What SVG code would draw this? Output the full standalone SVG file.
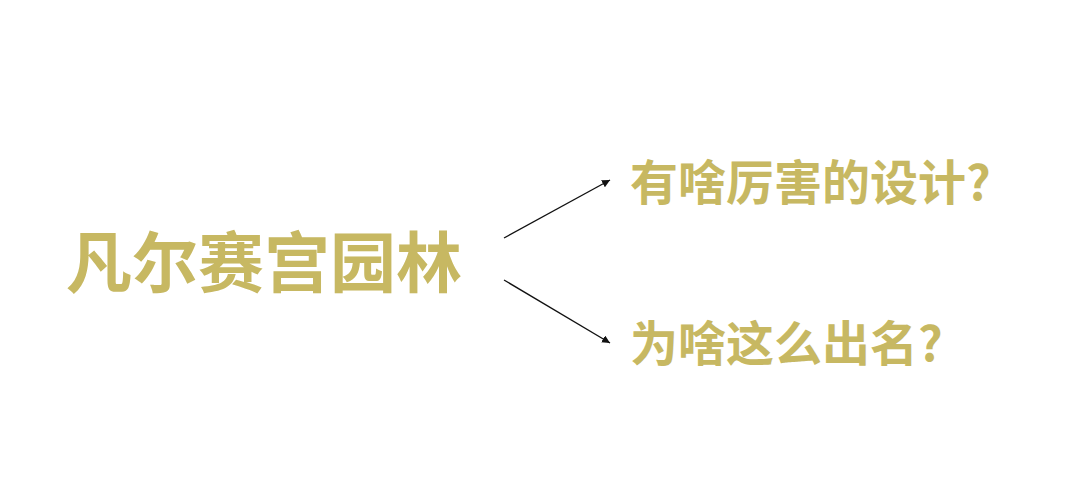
<svg xmlns="http://www.w3.org/2000/svg" width="1080" height="501" viewBox="0 0 1080 501">
<style>
.t{font-family:"Noto Sans CJK SC","Noto Sans CJK JP",sans-serif;font-weight:bold;fill:#c7b862}
.c{stroke:#111;stroke-width:1.3;fill:none}
</style>
<defs>
<marker id="ah" viewBox="0 0 10 10" refX="10" refY="5" markerWidth="8" markerHeight="8" markerUnits="userSpaceOnUse" orient="auto">
<path d="M0,0 L10,5 L0,10 z" fill="#111"/>
</marker>
</defs>
<rect width="1080" height="501" fill="#fff"/>
<g id="main"><text class="t" x="66" y="287" font-size="66">凡尔赛宫园林</text></g>
<g id="q1"><text class="t" x="630" y="200" font-size="48">有啥厉害的设计?</text></g>
<g id="q2"><text class="t" x="630" y="361" font-size="48">为啥这么出名?</text></g>
<g id="connectors">
<line class="c" x1="504" y1="238" x2="610" y2="180" marker-end="url(#ah)"/>
<line class="c" x1="504" y1="280" x2="610" y2="343" marker-end="url(#ah)"/>
</g>
</svg>
